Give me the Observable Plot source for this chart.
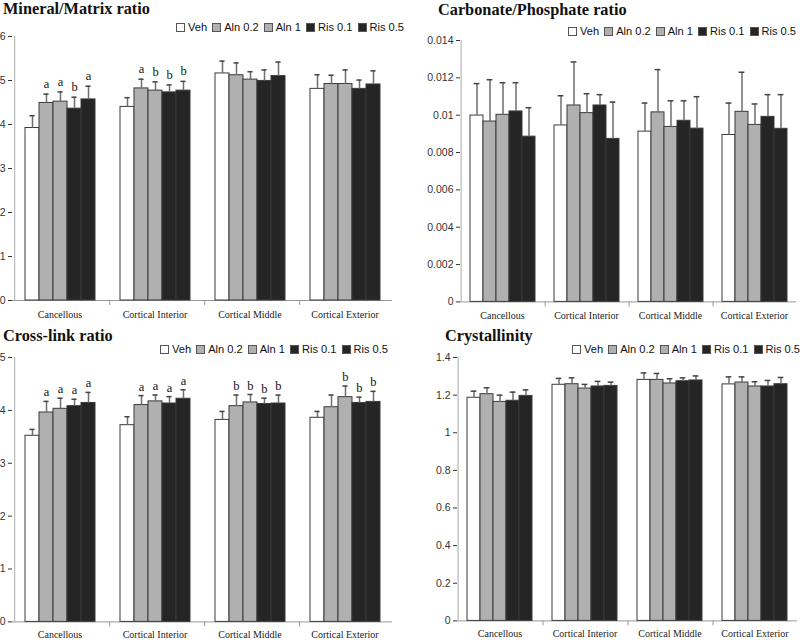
<!DOCTYPE html>
<html><head><meta charset="utf-8">
<script src="https://cdn.jsdelivr.net/npm/d3@7"></script>
<script src="https://cdn.jsdelivr.net/npm/@observablehq/plot@0.6"></script>
<style>
body{margin:0;background:#fff;}
#root{position:relative;width:800px;height:640px;overflow:hidden;background:#fff;}
.panel{position:absolute;}
.title{position:absolute;font-family:"Liberation Serif","Times New Roman",serif;font-weight:bold;font-size:16.3px;line-height:18px;white-space:nowrap;color:#111;}
.legend{position:absolute;display:flex;align-items:center;font-family:"Liberation Sans",Arial,sans-serif;font-size:11.1px;line-height:13px;white-space:nowrap;color:#111;}
.legend .sw{display:inline-block;width:7px;height:7px;border:1px solid #555;margin-right:3px;box-sizing:content-box;}
.legend .it{display:flex;align-items:center;margin-right:5px;}
</style></head>
<body><div id="root"></div>
<script>
const categories = ["Cancellous", "Cortical Interior", "Cortical Middle", "Cortical Exterior"];
const groups = ["Veh", "Aln 0.2", "Aln 1", "Ris 0.1", "Ris 0.5"];
const groupFills = ["#ffffff", "#b0b0b0", "#b0b0b0", "#252525", "#252525"];

// Mineral/Matrix ratio: means and SD (rows = categories, columns = groups)
const mineralMean = [[3.92,4.49,4.52,4.36,4.57],[4.40,4.82,4.77,4.73,4.77],[5.16,5.12,5.02,4.99,5.10],[4.81,4.92,4.92,4.81,4.91]];
const mineralSD   = [[0.28,0.20,0.22,0.26,0.30],[0.21,0.21,0.20,0.17,0.21],[0.28,0.28,0.18,0.25,0.32],[0.32,0.20,0.32,0.20,0.31]];
const mineralSig  = [["","a","a","b","a"],["","a","b","b","b"],["","","","",""],["","","","",""]];
const mineralTicks = [0,1,2,3,4,5,6];

// Carbonate/Phosphate ratio
const carbMean = [[0.00998,0.00966,0.01002,0.01020,0.00885],[0.00945,0.01052,0.01011,0.01052,0.00873],[0.00912,0.01015,0.00937,0.00970,0.00928],[0.00894,0.01018,0.00948,0.00991,0.00927]];
const carbSD   = [[0.00171,0.00224,0.00172,0.00154,0.00155],[0.00159,0.00233,0.00104,0.00058,0.00197],[0.00153,0.00229,0.00140,0.00107,0.00171],[0.00171,0.00212,0.00112,0.00119,0.00183]];
const carbSig  = [["","","","",""],["","","","",""],["","","","",""],["","","","",""]];
const carbTicks = [0,0.002,0.004,0.006,0.008,0.01,0.012,0.014];

// Cross-link ratio
const crossMean = [[3.52,3.96,4.03,4.08,4.14],[3.72,4.10,4.17,4.13,4.22],[3.82,4.08,4.15,4.12,4.13],[3.86,4.06,4.25,4.14,4.16]];
const crossSD   = [[0.12,0.21,0.20,0.13,0.20],[0.16,0.18,0.12,0.13,0.17],[0.16,0.21,0.15,0.11,0.16],[0.12,0.23,0.21,0.11,0.20]];
const crossSig  = [["","a","a","a","a"],["","a","a","a","a"],["","b","b","b","b"],["","","b","b","b"]];
const crossTicks = [0,1,2,3,4,5];

// Crystallinity
const crystMean = [[1.186,1.205,1.164,1.170,1.196],[1.255,1.258,1.235,1.246,1.249],[1.281,1.281,1.262,1.274,1.278],[1.257,1.267,1.246,1.246,1.258]];
const crystSD   = [[0.035,0.034,0.036,0.046,0.032],[0.034,0.034,0.022,0.027,0.020],[0.037,0.034,0.025,0.018,0.024],[0.040,0.030,0.025,0.032,0.036]];
const crystSig  = [["","","","",""],["","","","",""],["","","","",""],["","","","",""]];
const crystTicks = [0,0.2,0.4,0.6,0.8,1,1.2,1.4];

const root = document.getElementById("root");
const PAD = 0.7;

function makePanel(cfg) {
  const rows = [];
  categories.forEach((c, i) => groups.forEach((g, j) => {
    rows.push({cat: c, group: g, mean: cfg.means[i][j], sd: cfg.sds[i][j], hi: cfg.means[i][j] + cfg.sds[i][j], sig: cfg.sigs[i][j]});
  }));
  const plotW = cfg.width - cfg.marginLeft - cfg.marginRight;
  const facetW = plotW / categories.length;
  const step = facetW / (groups.length + 2 * PAD);
  const edgeDx = -(PAD + 0.5) * step;
  const capInset = (step - 6) / 2;
  const ymax = cfg.ticks[cfg.ticks.length - 1];
  const fmt = d => String(+d.toFixed(4));
  const chart = Plot.plot({
    width: cfg.width,
    height: cfg.marginTop + cfg.plotHeight + cfg.marginBottom,
    marginLeft: cfg.marginLeft, marginRight: cfg.marginRight,
    marginTop: cfg.marginTop, marginBottom: cfg.marginBottom,
    style: {fontFamily: "Liberation Sans, Arial, sans-serif", fontSize: "10.5px", color: "#333", background: "transparent", overflow: "visible"},
    fx: {domain: categories, padding: 0, axis: "bottom", label: null, tickSize: 0, tickPadding: cfg.fxPad},
    x: {domain: groups, axis: null, paddingInner: 0, paddingOuter: PAD},
    y: {domain: [0, ymax], ticks: cfg.ticks, tickFormat: fmt, tickSize: 4, tickPadding: 3, label: null},
    color: {domain: groups, range: groupFills},
    marks: [
      Plot.ruleY([0], {stroke: "#999", strokeWidth: 1}),
      Plot.ruleX([categories[0]], {fx: d => d, x: () => groups[0], y1: 0, y2: ymax, dx: edgeDx, stroke: "#aaa", strokeWidth: 1}),
      Plot.ruleX(categories.slice(1), {fx: d => d, x: () => groups[0], y1: 0, y2: 0, insetBottom: -5, dx: edgeDx, stroke: "#999", strokeWidth: 1}),
      Plot.barY(rows, {fx: "cat", x: "group", y: "mean", fill: "group", stroke: "#3a3a3a", strokeWidth: 1}),
      Plot.ruleX(rows, {fx: "cat", x: "group", y1: "mean", y2: "hi", stroke: "#6e6e6e", strokeWidth: 1.5}),
      Plot.tickY(rows, {fx: "cat", x: "group", y: "hi", stroke: "#444", strokeWidth: 1.5, insetLeft: capInset, insetRight: capInset}),
      Plot.text(rows.filter(d => d.sig), {fx: "cat", x: "group", y: "hi", text: "sig", lineAnchor: "bottom", dy: cfg.sigDy, fontFamily: "Liberation Serif, Times New Roman, serif", fontSize: 12.5, fill: "#111"})
    ]
  });
  chart.querySelectorAll('[aria-label^="fx-axis"] text').forEach(t => {
    t.style.fontFamily = "Liberation Serif, Times New Roman, serif";
    t.style.fontSize = "10px";
    t.style.fill = "#222";
  });
  const wrap = document.createElement("div");
  wrap.className = "panel";
  wrap.style.left = cfg.left + "px";
  wrap.style.top = cfg.top + "px";
  wrap.appendChild(chart);
  root.appendChild(wrap);

  const title = document.createElement("div");
  title.className = "title";
  title.textContent = cfg.title;
  title.style.left = cfg.titleX + "px";
  title.style.top = cfg.titleY + "px";
  root.appendChild(title);

  const legend = document.createElement("div");
  legend.className = "legend";
  legend.style.left = cfg.legendX + "px";
  legend.style.top = (cfg.legendY - 6.5) + "px";
  groups.forEach((g, j) => {
    const it = document.createElement("span");
    it.className = "it";
    const sw = document.createElement("span");
    sw.className = "sw";
    sw.style.background = groupFills[j];
    const tx = document.createElement("span");
    tx.textContent = g;
    it.appendChild(sw); it.appendChild(tx);
    legend.appendChild(it);
  });
  root.appendChild(legend);
}

makePanel({means: mineralMean, sds: mineralSD, sigs: mineralSig, ticks: mineralTicks,
  left: -20, top: 26, width: 420, marginLeft: 32, marginRight: 8, marginTop: 10, marginBottom: 26, plotHeight: 264, fxPad: 10,
  title: "Mineral/Matrix ratio", titleX: 3, titleY: 0, legendX: 176, legendY: 27, sigDy: -6});
makePanel({means: carbMean, sds: carbSD, sigs: carbSig, ticks: carbTicks,
  left: 400, top: 30, width: 400, marginLeft: 58, marginRight: 3, marginTop: 10, marginBottom: 26, plotHeight: 261.4, fxPad: 10,
  title: "Carbonate/Phosphate ratio", titleX: 438, titleY: 1, legendX: 568, legendY: 31, sigDy: -6});
makePanel({means: crossMean, sds: crossSD, sigs: crossSig, ticks: crossTicks,
  left: -20, top: 347.3, width: 420, marginLeft: 32, marginRight: 8, marginTop: 10, marginBottom: 26, plotHeight: 264.4, fxPad: 8.5,
  title: "Cross-link ratio", titleX: 3, titleY: 327, legendX: 160, legendY: 349, sigDy: -5});
makePanel({means: crystMean, sds: crystSD, sigs: crystSig, ticks: crystTicks,
  left: 400, top: 347.3, width: 400, marginLeft: 57, marginRight: 3, marginTop: 10, marginBottom: 26, plotHeight: 263.4, fxPad: 8.5,
  title: "Crystallinity", titleX: 445, titleY: 327, legendX: 572, legendY: 349, sigDy: -6});
</script>
</body></html>
